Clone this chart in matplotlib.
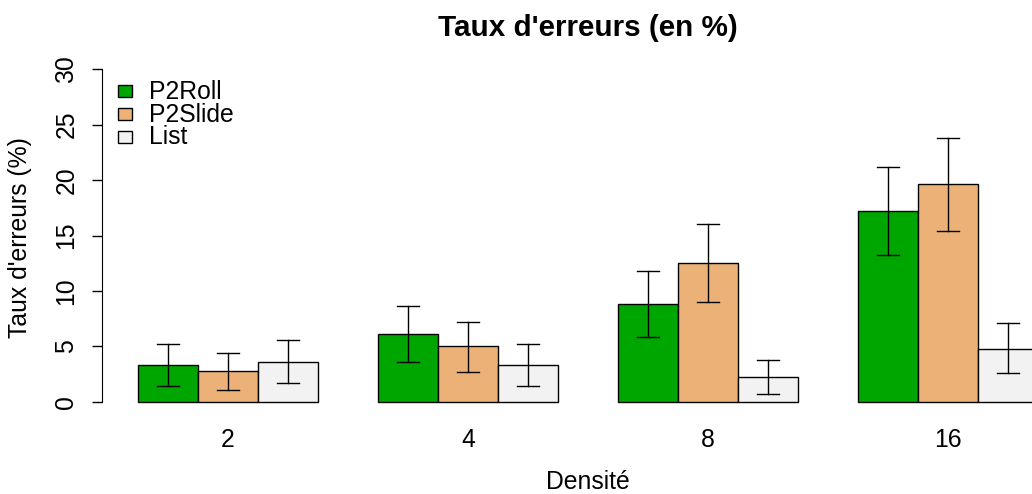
import matplotlib
matplotlib.use("Agg")
import matplotlib.pyplot as plt
from matplotlib.patches import Rectangle
import numpy as np

plt.rcParams['font.family'] = ['Liberation Sans', 'DejaVu Sans']

categories = ["2", "4", "8", "16"]
series = ["P2Roll", "P2Slide", "List"]
colors = ["#00A600", "#ECB176", "#F2F2F2"]
values = {
    "P2Roll": [3.35, 6.15, 8.8, 17.2],
    "P2Slide": [2.77, 5.0, 12.5, 19.6],
    "List": [3.63, 3.36, 2.25, 4.8],
}
err_low = {
    "P2Roll": [1.47, 3.63, 5.85, 13.2],
    "P2Slide": [1.05, 2.73, 9.0, 15.4],
    "List": [1.71, 1.47, 0.69, 2.58],
}
err_high = {
    "P2Roll": [5.2, 8.65, 11.8, 21.2],
    "P2Slide": [4.45, 7.23, 16.0, 23.8],
    "List": [5.56, 5.25, 3.81, 7.1],
}

W, H = 1032, 494
FS = 17.8
fig = plt.figure(figsize=(W / 100, H / 100), dpi=100)
left_px, right_px = 102, 1074
bottom_px, top_px = 415.3, 55.7
ax = fig.add_axes([left_px / W, 1 - bottom_px / H, (right_px - left_px) / W, (bottom_px - top_px) / H])

n = len(series)
for gi, cat in enumerate(categories):
    for si, s in enumerate(series):
        x0 = 1 + gi * (n + 1) + si
        xc = x0 + 0.5
        ax.bar(xc, values[s][gi], width=1, color=colors[si], edgecolor="black", linewidth=1, zorder=2)
        ax.plot([xc, xc], [err_low[s][gi], err_high[s][gi]], color="black", lw=1, zorder=3)
        for yv in (err_low[s][gi], err_high[s][gi]):
            ax.plot([xc - 0.18, xc + 0.18], [yv, yv], color="black", lw=1, zorder=3)

ax.set_xlim(0.4, 16.6)
ax.set_ylim(-1.2, 31.2)
for sp in ["top", "right", "bottom"]:
    ax.spines[sp].set_visible(False)
ax.spines["left"].set_bounds(0, 30)
ax.set_yticks([0, 5, 10, 15, 20, 25, 30])
ax.set_yticklabels(["0", "5", "10", "15", "20", "25", "30"], rotation=90, va="center")
ax.tick_params(axis="y", length=7, width=1, labelsize=FS, pad=10)
centers = [1 + gi * (n + 1) + n / 2 for gi in range(len(categories))]
ax.set_xticks(centers)
ax.set_xticklabels(categories)
ax.tick_params(axis="x", length=0, labelsize=FS, pad=9)

fig.text(20 / W, 1 - 238 / H, "Taux d'erreurs (%)", rotation=90, ha="center", va="center", fontsize=FS)
fig.text(588 / W, 1 - 482 / H, "Densité", ha="center", va="center", fontsize=FS)
fig.text(588 / W, 1 - 28 / H, "Taux d'erreurs (en %)", ha="center", va="center", fontsize=21.3, fontweight="bold")

# legend (manual, R style)
row_y = [91, 114, 137]
for si, s in enumerate(series):
    yc = row_y[si]
    fig.add_artist(Rectangle((118 / W, 1 - (yc + 6) / H), 14 / W, 12 / H, facecolor=colors[si],
                             edgecolor="black", linewidth=1, transform=fig.transFigure))
    fig.text(149 / W, 1 - (yc + 0.5) / H, s, ha="left", va="center", fontsize=FS)

fig.savefig("out.png", dpi=100)
